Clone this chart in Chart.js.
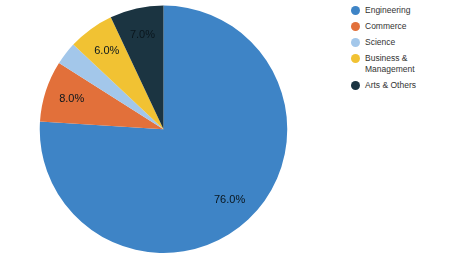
<!DOCTYPE html>
<html>
<head>
<meta charset="utf-8">
<script src="https://cdn.jsdelivr.net/npm/chart.js@4"></script>
<style>
  body { margin: 0; background: #fff; font-family: "Liberation Sans", Arial, sans-serif; }
  #wrap { position: absolute; left: 0; top: 0; width: 327px; height: 264px; }
  #legend { position: absolute; left: 350px; top: 5px; width: 100px; font-size: 8.5px; color: #333; }
  .item { display: flex; align-items: flex-start; margin-bottom: 5px; line-height: 11px; }
  .dot { width: 9px; height: 9px; border-radius: 50%; margin-right: 5px; margin-left: 1px; flex: none; margin-top: 1px; }
</style>
</head>
<body>
<div id="wrap"><canvas id="pie"></canvas></div>
<div id="legend"></div>
<script>
// categories + values
const categories = ['Engineering', 'Commerce', 'Science', 'Business & Management', 'Arts & Others'];
const shares = [76, 8, 3, 6, 7];
const colors = ['#3e84c6', '#e2703a', '#a3c7ea', '#f1c233', '#1b3441'];
const hiddenLabels = [false, false, true, false, false];

// html legend
const legend = document.getElementById('legend');
categories.forEach((c, i) => {
  const el = document.createElement('div');
  el.className = 'item';
  el.innerHTML = `<span class="dot" style="background:${colors[i]}"></span><span>${c.replace(' & ', ' &amp;<br>').replace('Arts &amp;<br>', 'Arts &amp; ')}</span>`;
  legend.appendChild(el);
});

// percentages inside the slices
const sliceLabels = {
  id: 'sliceLabels',
  afterDatasetsDraw(chart) {
    const ctx = chart.ctx;
    const meta = chart.getDatasetMeta(0);
    ctx.save();
    ctx.font = '11px "Liberation Sans", Arial, sans-serif';
    ctx.fillStyle = '#0a161d';
    ctx.textAlign = 'center';
    ctx.textBaseline = 'middle';
    meta.data.forEach((arc, i) => {
      if (hiddenLabels[i]) return;
      const mid = (arc.startAngle + arc.endAngle) / 2;
      const r = arc.outerRadius * 0.78;
      ctx.fillText(shares[i].toFixed(1) + '%', arc.x + Math.cos(mid) * r, arc.y + Math.sin(mid) * r);
    });
    ctx.restore();
  }
};

new Chart(document.getElementById('pie'), {
  type: 'pie',
  data: {
    labels: categories,
    datasets: [{
      data: shares,
      backgroundColor: colors,
      borderWidth: 0
    }]
  },
  options: {
    responsive: true,
    maintainAspectRatio: false,
    animation: false,
    layout: { padding: { top: 5.5, bottom: 11 } },
    plugins: {
      legend: { display: false },
      tooltip: { enabled: false }
    }
  },
  plugins: [sliceLabels]
});
</script>
</body>
</html>
